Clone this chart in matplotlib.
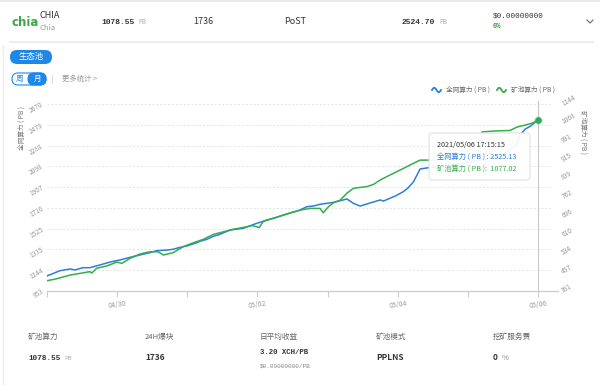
import matplotlib
matplotlib.use('Agg')
import matplotlib.pyplot as plt
from matplotlib.patches import FancyBboxPatch
from matplotlib.lines import Line2D
from matplotlib.transforms import IdentityTransform
import numpy as np

plt.rcParams['font.family'] = ['Noto Sans CJK SC', 'DejaVu Sans']

# ---------------- data ----------------
# hours since 2021/04/29 00:00
net_hours = [0, 4.4, 7.9, 9.6, 12.3, 14.7, 18.1, 21.6, 25.0, 28.4, 31.8, 35.2, 37.5, 41.0,
             43.1, 45.5, 47.8, 51.2, 52.4, 54.7, 56.9, 59.2, 62.6, 67.2, 71.8, 77.4, 82.0,
             86.6, 88.9, 91.1, 93.4, 95.7, 98.0, 100.3, 102.6, 104.8, 107.1, 109.4, 114.0,
             115.1, 119.1, 121.9, 123.5, 125.4, 127.6, 130.5, 136.2, 143.0, 150.0, 156.0,
             160.5, 161.7, 163.6, 165.3, 168.0]
net_power = [1091, 1139, 1155, 1146, 1167, 1167, 1192, 1219, 1238, 1262, 1284, 1305, 1323, 1329,
             1336, 1354, 1366, 1396, 1410, 1428, 1455, 1474, 1513, 1529, 1575, 1620, 1660,
             1697, 1727, 1733, 1749, 1758, 1767, 1782, 1798, 1758, 1733, 1752, 1789,
             1779, 1825, 1865, 1899, 1957, 2073, 2085, 2100, 2130, 2165, 2210,
             2290, 2380, 2440, 2465, 2525.13]

pool_hours = [0, 3.3, 7.9, 11.3, 14.7, 15.3, 17.0, 20.4, 23.9, 25.6, 28.4, 31.8, 35.2, 38.0,
              39.8, 43.1, 46.6, 50.1, 53.5, 56.9, 59.2, 63.8, 68.3, 70.2, 72.6, 74.1, 78.6,
              82.0, 86.6, 90.0, 93.4, 94.5, 96.3, 98.0, 100.3, 102.6, 104.8, 109.4, 111.7,
              114.0, 115.1, 119.7, 124.2, 127.6, 131.6, 139.6, 148.0, 148.8, 153.3, 158.4,
              160.8, 163.6, 166.0, 168.0]
pool_power = [423, 431, 446, 453, 460, 454, 474, 483, 499, 494, 514, 532, 541, 541,
              528, 537, 562, 578, 592, 612, 619, 633, 643, 648, 640, 667, 682,
              695, 711, 718, 718, 700, 725, 741, 752, 780, 800, 807, 816,
              834, 841, 868, 895, 915, 915, 922, 928, 1030, 1034, 1036,
              1050, 1058, 1066, 1077.02]

left_ticks = [953, 1144, 1335, 1525, 1716, 1907, 2098, 2288, 2479, 2670]
right_ticks = [381, 457, 534, 610, 686, 762, 839, 915, 991, 1068, 1144]
x_tick_hours = [0, 24, 48, 72, 96, 120, 144, 168]
x_tick_labels = ['', '04/30', '', '05/02', '', '05/04', '', '05/06']

series_names = ['全网算力 ( PB )', '矿池算力 ( PB )']
tooltip_time = '2021/05/06 17:15:15'

header_name = 'CHIA'
header_sub = 'Chia'
header_pool = '1078.55'
header_blocks = '1736'
header_algo = 'PoST'
header_net = '2524.70'
header_price = '$0.00000000'
header_change = '0%'

stat_labels = ['矿池算力', '24H爆块', '日平均收益', '矿池模式', '挖矿服务费']
stat_values = ['1078.55', '1736', '3.20 XCH/PB', 'PPLNS', '0']

BLUE = '#2a7fd8'
GREEN = '#34ad4a'
W, H = 600, 385

fig = plt.figure(figsize=(6, 3.85), dpi=100)
fig.patch.set_facecolor('white')


def ft(x, y, s, **kw):
    return fig.text(x / W, 1 - y / H, s, **kw)


def fline(xs, ys, **kw):
    fig.add_artist(Line2D([x / W for x in xs], [1 - y / H for y in ys],
                          transform=fig.transFigure, **kw))


def fbox(x0, y0, x1, y1, r, **kw):
    p = FancyBboxPatch((x0, H - y1), x1 - x0, y1 - y0,
                       boxstyle='round,pad=0,rounding_size=%g' % r,
                       transform=IdentityTransform(), **kw)
    fig.add_artist(p)
    return p


MONO = ['Liberation Mono', 'DejaVu Sans Mono']

# ---------------- header card ----------------
fline([0, 600], [1, 1], color='#e6e6e6', lw=1.2)
fline([10, 593], [42, 42], color='#eeeeee', lw=1.5)
fline([3, 3], [45, 385], color='#eeeeee', lw=1.0)

ft(11, 22, 'chia', color='#3aa845', fontsize=8.5, fontweight='bold', va='center',
   family=['DejaVu Sans'])
ft(40, 15, header_name, color='#333333', fontsize=6.5, va='center')
ft(40, 28, header_sub, color='#999999', fontsize=5.5, va='center')
ft(101, 22, header_pool, color='#333333', fontsize=5.8, fontweight='bold', va='center', family=MONO)
ft(138, 22.5, 'PB', color='#aaaaaa', fontsize=4.5, va='center')
ft(193, 22, header_blocks, color='#333333', fontsize=6.5, va='center')
ft(284, 22, header_algo, color='#333333', fontsize=6.5, va='center')
ft(402, 22, header_net, color='#333333', fontsize=5.8, fontweight='bold', va='center', family=MONO)
ft(439, 22.5, 'PB', color='#aaaaaa', fontsize=4.5, va='center')
ft(493, 16, header_price, color='#333333', fontsize=5.5, va='center', family=MONO)
ft(493, 27, header_change, color='#3c9e3c', fontsize=5, fontweight='bold', va='center', family=MONO)
fline([587, 590, 593], [20, 23, 20], color='#666666', lw=0.8)

# 生态池 pill
fbox(10, 50, 52, 64, 7, facecolor='#1e88e8', edgecolor='none')
ft(31, 57, '生态池', color='white', fontsize=6, ha='center', va='center')

# 周 / 月 toggle
fbox(12, 73, 46, 85, 6, facecolor='white', edgecolor='#1e88e8', lw=0.8)
fbox(28, 73, 46, 85, 6, facecolor='#1e88e8', edgecolor='#1e88e8', lw=0.8)
ft(20, 79, '周', color='#1e88e8', fontsize=5.5, ha='center', va='center')
ft(37.5, 79, '月', color='white', fontsize=5.5, ha='center', va='center')
fline([52, 52], [75, 83], color='#dddddd', lw=0.8)
ft(62, 79, '更多统计 >', color='#999999', fontsize=5.3, va='center')

# legend
for x0, col, name in [(432, BLUE, series_names[0]), (497, GREEN, series_names[1])]:
    t = np.linspace(0, 1, 30)
    fline(list(x0 + 9 * t), list(90 - 2.2 * np.sin(2 * np.pi * t)), color=col, lw=1.3)
    ft(x0 + 14, 90, name, color='#666666', fontsize=4.8, va='center')

# ---------------- chart ----------------
ax = fig.add_axes([47 / W, 94 / H, 511 / W, 187 / H])
ax.set_xlim(0, 174.8)
ax.set_ylim(left_ticks[0], left_ticks[-1])
ax2 = ax.twinx()
ax2.set_ylim(right_ticks[0], right_ticks[-1])

for a in (ax, ax2):
    for s in a.spines.values():
        s.set_visible(False)
ax.spines['bottom'].set_visible(True)
ax.spines['bottom'].set_color('#cccccc')
ax.spines['bottom'].set_linewidth(0.9)

ax.set_yticks(left_ticks)
ax.set_yticklabels([str(v) for v in left_ticks])
ax2.set_yticks(right_ticks)
ax2.set_yticklabels([str(v) for v in right_ticks])
ax.tick_params(axis='y', length=0, labelsize=4.8, labelcolor='#999999', pad=3)
ax2.tick_params(axis='y', length=0, labelsize=4.8, labelcolor='#999999', pad=3)
for lbl in ax.get_yticklabels():
    lbl.set_rotation(30)
    lbl.set_rotation_mode('anchor')
    lbl.set_ha('right')
    lbl.set_va('center')
for lbl in ax2.get_yticklabels():
    lbl.set_rotation(30)
    lbl.set_rotation_mode('anchor')
    lbl.set_ha('left')
    lbl.set_va('center')

ax.set_xticks(x_tick_hours)
ax.set_xticklabels(x_tick_labels)
ax.tick_params(axis='x', length=4, color='#cccccc', width=0.8, labelsize=5,
               labelcolor='#999999', pad=2)
for lbl in ax.get_xticklabels():
    lbl.set_rotation(8)

for v in left_ticks[1:]:
    ax.plot([0, 172], [v, v], color='#e3e3e3', lw=0.7, ls=(0, (2, 2)), zorder=1)

ax.set_ylabel(series_names[0], fontsize=4.8, color='#777777', labelpad=0)
ax.yaxis.set_label_coords(-0.042, 0.87)
ax2.set_ylabel(series_names[1], fontsize=4.8, color='#777777', rotation=270, labelpad=0)
ax2.yaxis.set_label_coords(1.058, 0.85)

ax.plot(net_hours, net_power, color=BLUE, lw=1.1, zorder=3, solid_joinstyle='round')
ax2.plot(pool_hours, pool_power, color=GREEN, lw=1.1, zorder=3, solid_joinstyle='round')

ax.plot([net_hours[-1], net_hours[-1]], [left_ticks[0], left_ticks[-1] + 25],
        color='#c8c8c8', lw=0.8, clip_on=False, zorder=2)
ax.plot(net_hours[-1], net_power[-1], 'o', ms=3.5, color=BLUE, zorder=4)
ax2.plot(pool_hours[-1], pool_power[-1], 'o', ms=4, color=GREEN,
         mec=(0.2, 0.68, 0.29, 0.3), mew=2, zorder=5)

# tooltip
fbox(429, 133, 530, 180, 3, facecolor='white', edgecolor='#e0e0e0', lw=0.8, alpha=0.93)
ft(437, 145, tooltip_time, color='#333333', fontsize=5.2, va='center')
ft(437, 157, '%s : %.2f' % (series_names[0], net_power[-1]), color=BLUE, fontsize=5.2, va='center')
ft(437, 169, '%s:  %.2f' % (series_names[1], pool_power[-1]), color=GREEN, fontsize=5.2, va='center')

# ---------------- bottom stats ----------------
xs = [28, 145, 260, 376, 493]
for x, lab in zip(xs, stat_labels):
    ft(x, 337, lab, color='#666666', fontsize=5.5, va='center')
ft(28, 358, stat_values[0], color='#333333', fontsize=5.5, fontweight='bold', va='center', family=MONO)
ft(64, 358.5, 'PB', color='#aaaaaa', fontsize=4.2, va='center')
ft(145, 358, stat_values[1], color='#333333', fontsize=6, fontweight='bold', va='center')
ft(260, 352, stat_values[2], color='#333333', fontsize=5.3, fontweight='bold', va='center', family=MONO)
ft(260, 366, '$0.00000000/PB', color='#888888', fontsize=4.3, va='center', family=MONO)
ft(376, 358, stat_values[3], color='#333333', fontsize=6, fontweight='bold', va='center')
ft(493, 358, stat_values[4], color='#333333', fontsize=6, fontweight='bold', va='center')
ft(502, 358, '%', color='#888888', fontsize=5.5, va='center')

fig.savefig('out.png', dpi=100, facecolor='white')
